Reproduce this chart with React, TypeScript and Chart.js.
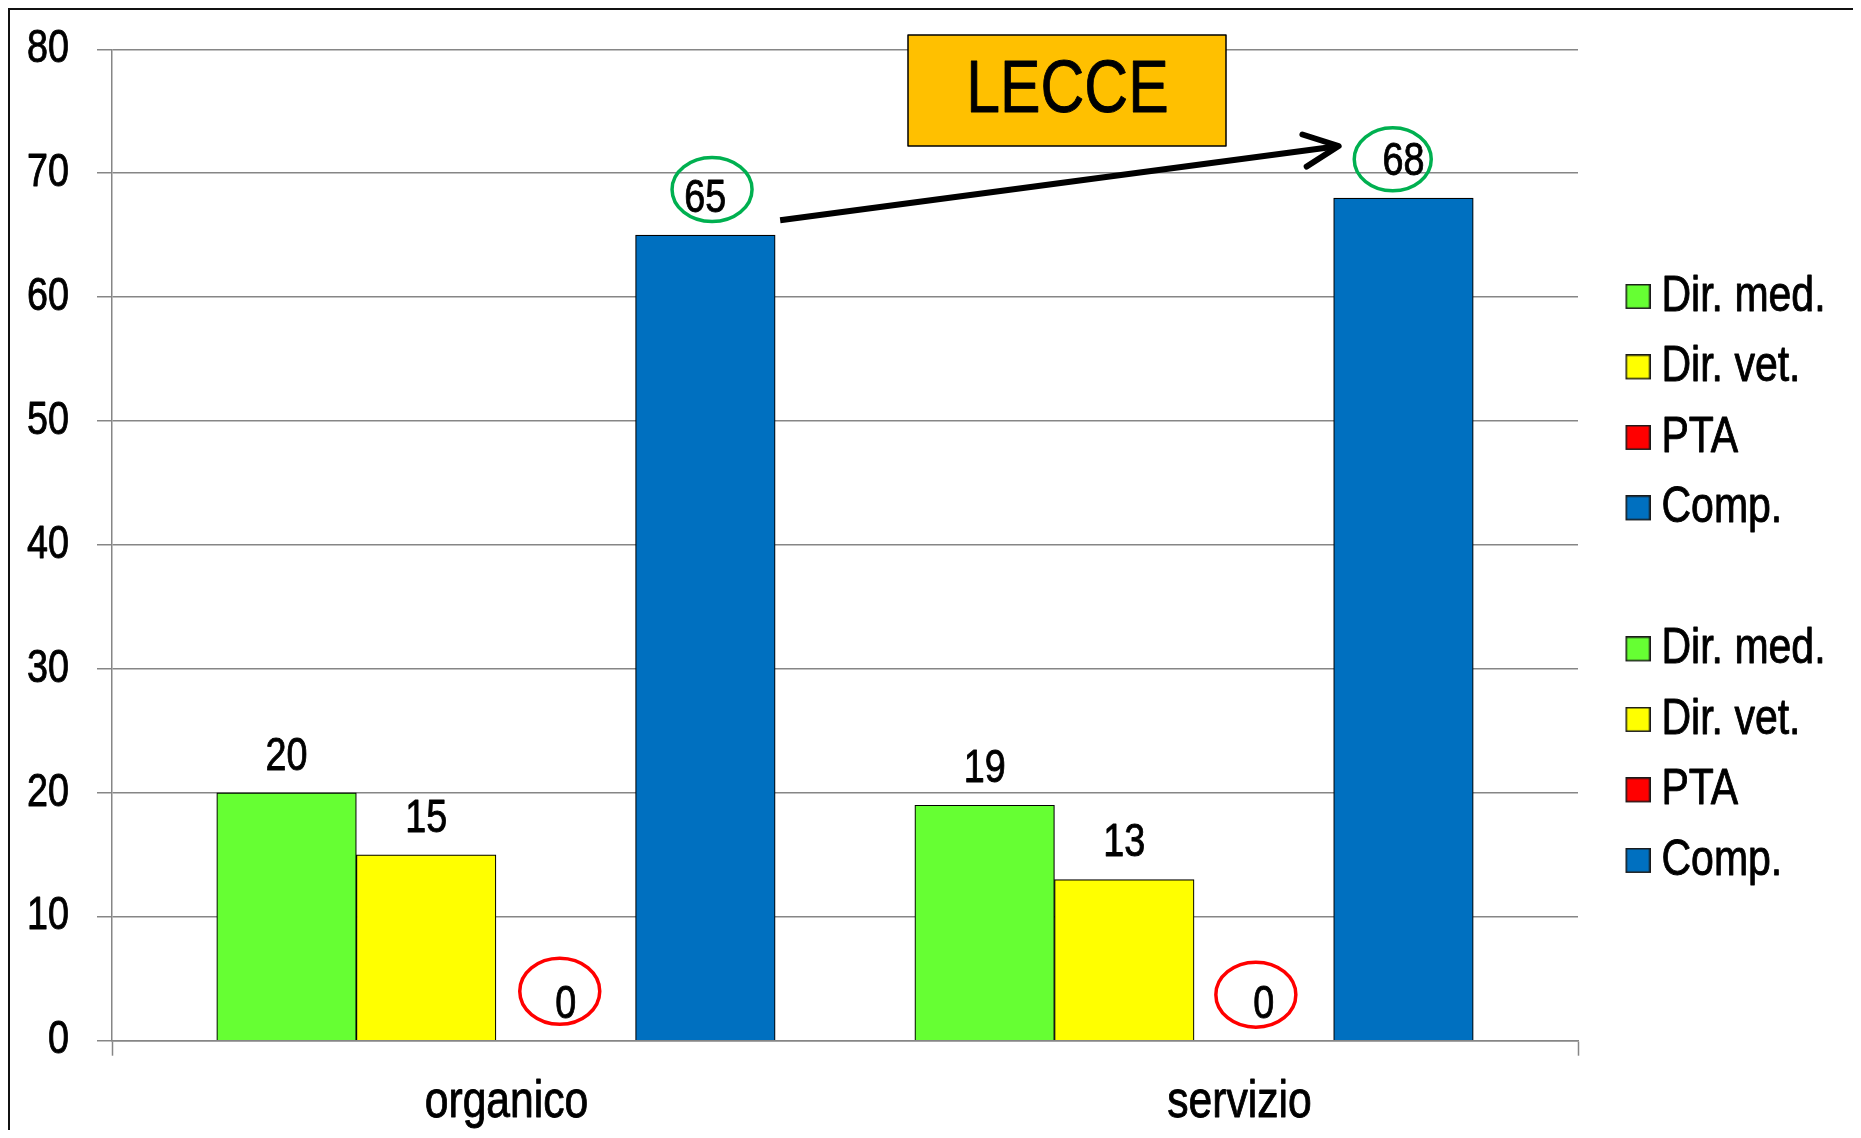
import React, { useEffect, useRef } from 'react';
import { Chart, registerables } from 'chart.js';

Chart.register(...registerables);

// ---------------- data ----------------
const categories = ['organico', 'servizio'];
const seriesNames = ['Dir. med.', 'Dir. vet.', 'PTA', 'Comp.'];
const organicoValues = [20, 15, 0, 65];
const servizioValues = [19, 13, 0, 68];
const yMin = 0;
const yMax = 80;
const yStep = 10;
const titleText = 'LECCE';

// ---------------- styles ----------------
const seriesColors = ['#66FF33', '#FFFF00', '#FF0000', '#0070C0'];
const FONT = '"Liberation Sans", Arial, sans-serif';
const NARROW = 0.82; // horizontal squeeze to imitate a narrow face
const GRID = '#868686';
const CANVAS_W = 1851;
const CANVAS_H = 1120;
const LABEL_GAP = 35.8;
const ELLIPSE_GAP = 38;
const BAR_PX = 139.6;
const GROUP_AXIS_PAD = 0.55; // range padding of the bar position axis (in category units)

// ellipses around some value labels: [datasetIndex, dataIndex, color, dx, dy, rx, ry]
const highlightStyles: Array<[number, number, string, number, number, number, number]> = [
  [3, 0, '#00B050', 6.7, -7.7, 40, 32],
  [7, 1, '#00B050', -10.7, -0.7, 38.5, 31.5],
  [2, 0, '#FF0000', -6, -11.5, 40, 33],
  [6, 1, '#FF0000', -8, -8, 40, 32.5],
];

function makeSwatch(color: string | null): HTMLCanvasElement {
  const c = document.createElement('canvas');
  c.width = 66;
  c.height = 26;
  const g = c.getContext('2d')!;
  if (color) {
    g.fillStyle = '#1a1a1a';
    g.fillRect(41, 0, 25, 25);
    g.fillStyle = color;
    g.fillRect(42.5, 1.5, 22, 22);
  }
  return c;
}

function makeNarrow(ctx: any) {
  if (ctx.__narrow) return;
  const orig = ctx.fillText.bind(ctx);
  const origStroke = ctx.strokeText.bind(ctx);
  ctx.fillText = function (text: string, x: number, y: number, maxWidth?: number) {
    ctx.save();
    ctx.translate(x, y);
    ctx.scale(NARROW, 1);
    if (maxWidth === undefined) orig(text, 0, 0);
    else orig(text, 0, 0, maxWidth / NARROW);
    // slight emboldening to compensate for the squeeze
    ctx.strokeStyle = ctx.fillStyle;
    ctx.lineWidth = 0.9;
    ctx.lineJoin = 'round';
    if (maxWidth === undefined) origStroke(text, 0, 0);
    else origStroke(text, 0, 0, maxWidth / NARROW);
    ctx.restore();
  };
  ctx.__narrow = true;
}

const annotatePlugin = {
  id: 'annotate',
  afterDraw(chart: any) {
    const ctx: CanvasRenderingContext2D = chart.ctx;
    const area = chart.chartArea;
    ctx.save();

    // value labels
    ctx.font = `46px ${FONT}`;
    ctx.fillStyle = '#000';
    ctx.textAlign = 'center';
    ctx.textBaseline = 'middle';
    chart.data.datasets.forEach((ds: any, i: number) => {
      const meta = chart.getDatasetMeta(i);
      meta.data.forEach((el: any, j: number) => {
        const pt = ds.data[j];
        const v = pt && typeof pt === 'object' ? pt.y : pt;
        if (v === null || v === undefined) return;
        ctx.fillText(String(v), el.x, el.y - LABEL_GAP);
      });
    });

    // ellipses
    highlightStyles.forEach(([di, j, color, dx, dy, rx, ry]) => {
      const el: any = chart.getDatasetMeta(di).data[j];
      if (!el) return;
      ctx.beginPath();
      ctx.ellipse(el.x + dx, el.y - ELLIPSE_GAP + dy, rx, ry, 0, 0, Math.PI * 2);
      ctx.strokeStyle = color;
      ctx.lineWidth = 3.5;
      ctx.stroke();
    });

    // arrow from organico Comp. to servizio Comp.
    const a: any = chart.getDatasetMeta(3).data[0];
    const b: any = chart.getDatasetMeta(7).data[1];
    if (a && b) {
      const sx = a.x + a.width / 2 + 5;
      const sy = a.y - 15;
      const tx = b.x - b.width / 2 + 5;
      const ty = b.y - 52;
      const ang = Math.atan2(ty - sy, tx - sx);
      ctx.strokeStyle = '#000';
      ctx.lineWidth = 6;
      ctx.lineCap = 'butt';
      ctx.beginPath();
      ctx.moveTo(sx, sy);
      ctx.lineTo(tx - 3 * Math.cos(ang), ty - 3 * Math.sin(ang));
      ctx.stroke();
      const len = 38;
      const spread = 0.44;
      ctx.lineCap = 'round';
      ctx.lineJoin = 'round';
      ctx.beginPath();
      ctx.moveTo(tx - len * Math.cos(ang - spread), ty - len * Math.sin(ang - spread));
      ctx.lineTo(tx, ty);
      ctx.lineTo(tx - len * Math.cos(ang + spread), ty - len * Math.sin(ang + spread));
      ctx.stroke();
    }

    // title box
    const bx = area.left + 796;
    const by = area.top - 14.3;
    const bw = 318;
    const bh = 111;
    ctx.fillStyle = '#FFC000';
    ctx.fillRect(bx, by, bw, bh);
    ctx.strokeStyle = '#000';
    ctx.lineWidth = 1.5;
    ctx.strokeRect(bx, by, bw, bh);
    ctx.fillStyle = '#000';
    ctx.font = `74px ${FONT}`;
    ctx.textAlign = 'center';
    ctx.textBaseline = 'middle';
    ctx.fillText(titleText, bx + bw / 2 + 0.5, by + bh / 2 + 1.5);

    ctx.restore();
  },
};

export default function App() {
  const canvasRef = useRef<HTMLCanvasElement | null>(null);

  useEffect(() => {
    const canvas = canvasRef.current;
    if (!canvas) return;
    const ctx2d = canvas.getContext('2d');
    makeNarrow(ctx2d);

    const swatches = seriesColors.map((c) => makeSwatch(c));
    const emptySwatch = makeSwatch(null);

    const datasets: any[] = [];
    const groups = [organicoValues, servizioValues];
    groups.forEach((values, gi) => {
      seriesNames.forEach((name, si) => {
        datasets.push({
          label: name,
          xAxisID: 'xb',
          data: categories.map((_, ci) => ({ x: ci, y: ci === gi ? values[si] : null })),
          backgroundColor: seriesColors[si],
          borderColor: '#000',
          borderWidth: 1.2,
          skipNull: true,
          barThickness: BAR_PX,
        });
      });
    });

    const chart = new Chart(canvas, {
      type: 'bar',
      data: { labels: categories, datasets },
      options: {
        animation: false,
        responsive: false,
        devicePixelRatio: 1,
        events: [],
        layout: { padding: 0 },
        scales: {
          x: {
            type: 'category',
            axis: 'x',
            position: 'bottom',
            offset: true,
            z: 1,
            grid: {
              display: true,
              offset: true,
              drawOnChartArea: false,
              drawTicks: true,
              tickLength: 15,
              tickWidth: 1.5,
              color: GRID,
              tickColor: (c: any) => (c.index === 1 ? 'rgba(0,0,0,0)' : GRID),
            },
            border: { display: true, color: GRID, width: 1.5 },
            ticks: {
              color: '#000',
              font: { family: FONT, size: 52 },
              padding: 16,
              labelOffset: 28,
              maxRotation: 0,
              autoSkip: false,
            },
            afterFit: (s: any) => {
              s.height = 89.3;
            },
          },
          xb: {
            type: 'linear',
            axis: 'x',
            position: 'bottom',
            display: false,
            offset: false,
            min: -GROUP_AXIS_PAD,
            max: categories.length - 1 + GROUP_AXIS_PAD,
            afterBuildTicks: (s: any) => {
              s.ticks = [];
            },
          },
          y: {
            min: yMin,
            max: yMax,
            ticks: {
              stepSize: yStep,
              color: '#000',
              font: { family: FONT, size: 46 },
              padding: 28,
            },
            grid: { color: GRID, lineWidth: 1.5, tickLength: 15, drawTicks: true },
            border: { display: true, color: GRID, width: 1.5 },
            afterFit: (s: any) => {
              s.width = 102;
              s.paddingTop = 20;
              s.paddingBottom = 20;
            },
          },
        },
        plugins: {
          tooltip: { enabled: false },
          title: {
            display: true,
            text: ' ',
            font: { size: 10, lineHeight: 1 },
            padding: { top: 29.3, bottom: 0 },
          },
          legend: {
            position: 'right',
            align: 'center',
            maxWidth: 283,
            title: { display: true, text: ' ', font: { size: 17.8, lineHeight: 1 }, padding: 0 },
            labels: {
              usePointStyle: true,
              pointStyleWidth: 38,
              boxHeight: 25,
              padding: 20.5,
              color: '#000',
              font: { family: FONT, size: 50 },
              generateLabels: (ch: any) => {
                const base = (Chart.defaults.plugins.legend.labels as any).generateLabels(ch);
                const items = base.map((it: any, i: number) => ({
                  ...it,
                  pointStyle: swatches[i % 4],
                  fontColor: '#000',
                }));
                items.splice(4, 0, {
                  text: ' '.repeat(40),
                  pointStyle: emptySwatch,
                  fillStyle: 'rgba(0,0,0,0)',
                  strokeStyle: 'rgba(0,0,0,0)',
                  lineWidth: 0,
                  hidden: false,
                  datasetIndex: -1,
                  fontColor: '#000',
                });
                return items;
              },
            },
          },
        },
      } as any,
      plugins: [annotatePlugin],
    });

    return () => {
      chart.destroy();
    };
  }, []);

  return (
    <div
      style={{
        width: 1853,
        height: 1130,
        marginBottom: -8,
        borderTop: '2px solid #111',
        borderLeft: '2px solid #111',
        boxSizing: 'border-box',
        overflow: 'hidden',
        background: '#fff',
      }}
    >
      <canvas
        ref={canvasRef}
        width={CANVAS_W}
        height={CANVAS_H}
        style={{ display: 'block', width: CANVAS_W, height: CANVAS_H }}
      />
    </div>
  );
}
